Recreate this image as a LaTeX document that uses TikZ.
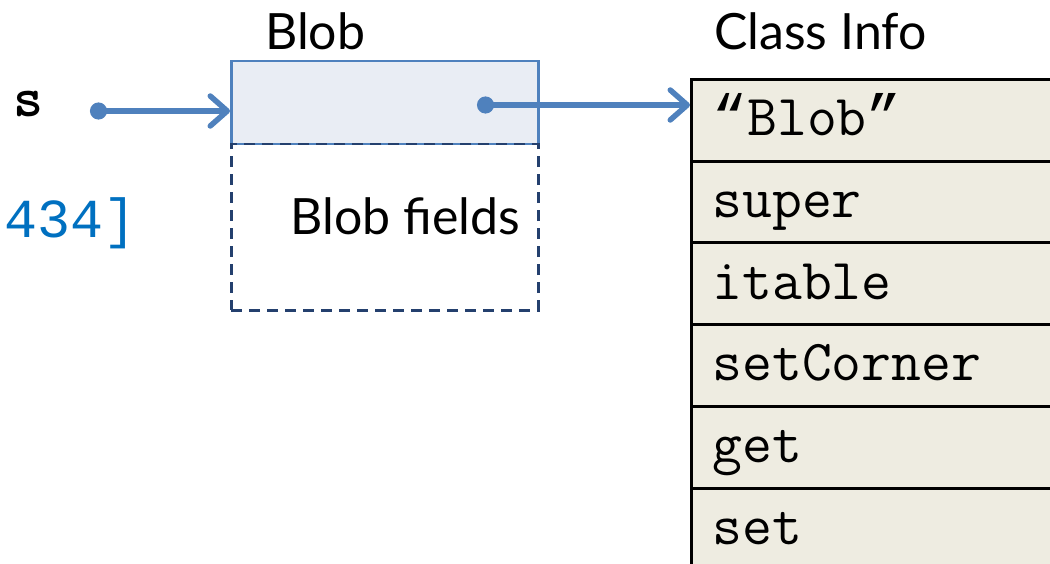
\documentclass[tikz,border=0pt]{standalone}
\usepackage{fontspec}
\setmainfont{Lato}
\newfontfamily\idxfont{Liberation Mono}
\usepackage{tikz}
\usetikzlibrary{arrows.meta}
\usepackage{xcolor}

\definecolor{ptrblue}{RGB}{79,129,189}
\definecolor{headfill}{RGB}{233,237,244}
\definecolor{dashnavy}{RGB}{36,64,110}
\definecolor{infofill}{RGB}{238,236,225}
\definecolor{codeblue}{RGB}{0,112,192}

\tikzset{
    ptr/.style={line width=5.5pt, ptrblue,
        {Circle[length=17pt]}-{Straight Barb[length=17pt, width=30pt, line cap=round, line join=round]}},
    inforow/.style={draw, line width=3pt, fill=infofill, anchor=north west,
        minimum height=81.7pt, text width=340pt, inner xsep=21pt, align=left,
        text height=40pt, text depth=9pt, font=\fontsize{58}{58}\ttfamily},
    title/.style={anchor=base west, inner sep=0pt, font=\fontsize{50}{50}\selectfont},
}

\begin{document}
\begin{tikzpicture}[x=1pt, y=-1pt]
    \useasboundingbox (0, 0) rectangle (1050, 564);
    \clip (0, 0) rectangle (1050, 564);

    \node[title] (blobtitle) at (265, 50) {Blob};
    \node[title] (infotitle) at (714, 50) {Class Info};

    % the object
    \node[draw=ptrblue, line width=2.5pt, fill=headfill, anchor=north west,
        minimum width=307pt, minimum height=83pt, inner sep=0pt] (blobhead) at (230, 60) {};
    \node[draw=dashnavy, line width=2.5pt, dash pattern=on 11pt off 7pt, anchor=north west,
        minimum width=307pt, minimum height=166pt, inner sep=0pt] (blobbody) at (230, 143) {};
    \node[title, anchor=base east] (fields) at (520, 235) {Blob fields};

    % the class info table
    \node[inforow] (row1) at (690, 78) {{\idxfont “}Blob{\idxfont ”}};
    \node[inforow] (row2) at (690, 159.7) {super};
    \node[inforow] (row3) at (690, 241.4) {itable};
    \node[inforow] (row4) at (690, 323.1) {setCorner};
    \node[inforow] (row5) at (690, 404.8) {get};
    \node[inforow] (row6) at (690, 486.5) {set};

    \node[anchor=base west, inner sep=0pt, font=\fontsize{57}{57}\ttfamily\bfseries] (svar) at (13, 117) {s};
    \node[anchor=base west, inner sep=0pt, text=codeblue, font=\fontsize{55}{55}\idxfont] (idx) at (4, 238) {434]};

    \coordinate (sptr) at (90, 111);
    \coordinate (cptr) at (477, 105);

    \draw[ptr] (sptr) -- (sptr -| blobhead.west);
    \draw[ptr] (cptr) -- (cptr -| row1.west);
\end{tikzpicture}
\end{document}
